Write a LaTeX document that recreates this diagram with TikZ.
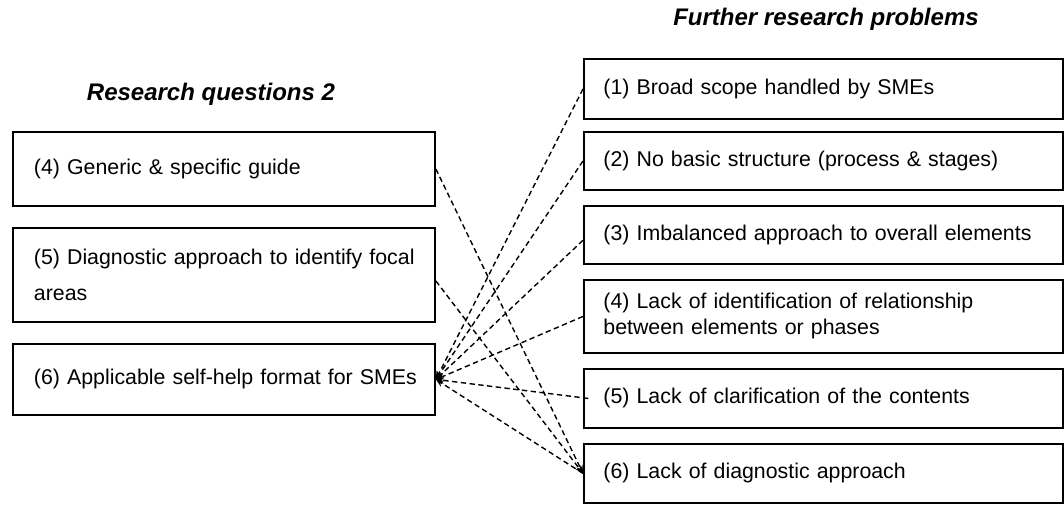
\documentclass[tikz,border=0pt]{standalone}
\usepackage{fontspec}
\setmainfont{Liberation Sans}
\usetikzlibrary{arrows.meta}
\begin{document}
\begin{tikzpicture}[x=0.75pt,y=-0.75pt,
  box/.style={draw, line width=1.4pt, rectangle, anchor=north west,
    inner ysep=0pt, font=\fontsize{16}{19.5}\selectfont},
  lbox/.style={box, inner xsep=15.75pt, text width=285pt, align=left},
  rbox/.style={box, inner xsep=14.5pt, text width=330pt, align=left, minimum width=359.25pt},
  heading/.style={anchor=base, font=\fontsize{18}{21}\selectfont\bfseries\itshape},
  link/.style={dashed, dash pattern=on 4pt off 2.6pt, line width=1.05pt,
    -{Stealth[length=6pt,width=5pt]}}
]
\useasboundingbox (0,0) rectangle (1064,507);

% headings
\node[heading] (hq) at (211,100.7) {Research questions 2};
\node[heading] (hp) at (826,25) {Further research problems};

% research questions
\node[lbox, minimum width=316.5pt, minimum height=55.5pt] (q4) at (12,131)
  {\mbox{(4) Generic \& specific guide}};
\node[lbox, minimum width=315.75pt, minimum height=70.5pt,
  font=\fontsize{16}{27.5}\selectfont] (q5) at (12,227)
  {\mbox{(5) Diagnostic approach to identify focal}\\areas};
\node[lbox, minimum width=315pt, minimum height=53.25pt] (q6) at (12,343)
  {\mbox{(6) Applicable self-help format for SMEs}};

% research problems
\node[rbox, minimum height=45pt] (p1) at (583,58) {\mbox{(1) Broad scope handled by SMEs}};
\node[rbox, minimum height=43.5pt] (p2) at (583,131) {\mbox{(2) No basic structure (process \& stages)}};
\node[rbox, minimum height=43.5pt] (p3) at (583,205) {\mbox{(3) Imbalanced approach to overall elements}};
\node[rbox, minimum height=54.75pt] (p4) at (583,279)
  {\mbox{(4) Lack of identification of relationship}\\\mbox{between elements or phases}};
\node[rbox, minimum height=44.25pt] (p5) at (583,368) {\mbox{(5) Lack of clarification of the contents}};
\node[rbox, minimum height=44.25pt] (p6) at (583,443) {\mbox{(6) Lack of diagnostic approach}};

% links into the self-help format
\draw[link] (p1.west) -- (q6.east);
\draw[link] (p2.west) -- (q6.east);
\draw[link] ([yshift=-4pt]p3.west) -- (q6.east);
\draw[link] (p4.west) -- (q6.east);
\draw[link] ([xshift=4pt]p5.west) -- (q6.east);
\draw[link] (p6.west) -- (q6.east);

% links into the diagnostic approach
\draw[link] (q4.east) -- (p6.west);
\draw[link] ([yshift=-4.5pt]q5.east) -- (p6.west);
\end{tikzpicture}
\end{document}
